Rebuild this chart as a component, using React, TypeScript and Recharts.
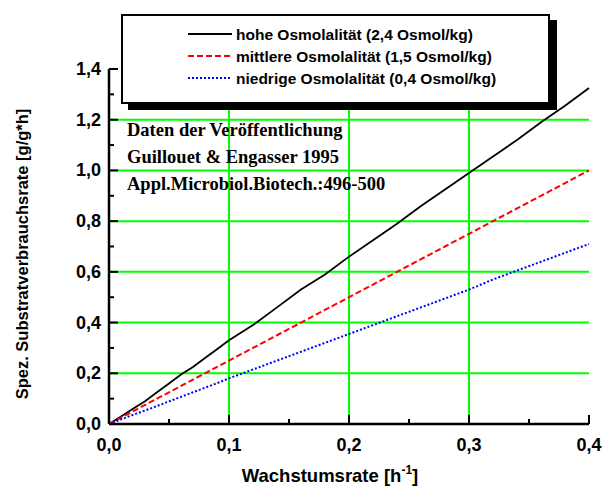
import React from 'react';
import { LineChart, Line, XAxis, YAxis, ReferenceLine, Legend } from 'recharts';

// ---- data ----
const xValues = [0, 0.01, 0.02, 0.03, 0.04, 0.05, 0.06, 0.07, 0.08, 0.09, 0.1, 0.12, 0.14, 0.16, 0.18, 0.2, 0.22, 0.24, 0.26, 0.28, 0.3, 0.32, 0.34, 0.36, 0.38, 0.4];
const hohe = [0, 0.03, 0.06, 0.09, 0.125, 0.16, 0.195, 0.225, 0.26, 0.295, 0.33, 0.39, 0.46, 0.53, 0.59, 0.66, 0.725, 0.79, 0.86, 0.925, 0.99, 1.055, 1.12, 1.19, 1.255, 1.325];
const mittlere = [0, 0.025, 0.05, 0.075, 0.1, 0.125, 0.15, 0.175, 0.2, 0.225, 0.25, 0.3, 0.35, 0.4, 0.45, 0.5, 0.55, 0.6, 0.65, 0.7, 0.75, 0.8, 0.85, 0.9, 0.95, 1.0];
const niedrige = [0, 0.018, 0.036, 0.053, 0.071, 0.089, 0.107, 0.125, 0.143, 0.161, 0.18, 0.215, 0.25, 0.285, 0.32, 0.355, 0.39, 0.425, 0.46, 0.495, 0.53, 0.57, 0.605, 0.64, 0.675, 0.71];

const xTicks = [0, 0.05, 0.1, 0.15, 0.2, 0.25, 0.3, 0.35, 0.4];
const yTicks = [0, 0.1, 0.2, 0.3, 0.4, 0.5, 0.6, 0.7, 0.8, 0.9, 1.0, 1.1, 1.2, 1.3, 1.4];
const xGrid = [0.1, 0.2, 0.3];
const yGrid = [0.2, 0.4, 0.6, 0.8, 1.0, 1.2];

const seriesNames = ['hohe Osmolalität (2,4 Osmol/kg)', 'mittlere Osmolalität (1,5 Osmol/kg)', 'niedrige Osmolalität (0,4 Osmol/kg)'];
const seriesKeys = ['hohe', 'mittlere', 'niedrige'];
const seriesColors = ['#000000', '#ff0000', '#0000ff'];
const seriesDash = ['', '6 3', '2 2'];

const annotation = ['Daten der Veröffentlichung', 'Guillouet & Engasser 1995', 'Appl.Microbiol.Biotech.:496-500'];

const data = xValues.map((x, i) => ({ x, hohe: hohe[i], mittlere: mittlere[i], niedrige: niedrige[i] }));

const fmt = (v: number) => v.toFixed(1).replace('.', ',');
const isMajorX = (v: number) => Math.round(v * 100) % 10 === 0;
const isMajorY = (v: number) => Math.round(v * 10) % 2 === 0;

const FONT = '"Liberation Sans", Arial, sans-serif';

const BottomTick = (p: any) => {
  const { x, y, payload } = p;
  const major = isMajorX(payload.value);
  return (
    <g>
      <line x1={x} x2={x} y1={y} y2={y - (major ? 9 : 5)} stroke="#000" strokeWidth={2} />
      {major && (
        <text x={x} y={y + 27} textAnchor="middle" fontFamily={FONT} fontWeight="bold" fontSize={18} fill="#000">
          {fmt(payload.value)}
        </text>
      )}
    </g>
  );
};
const TopTick = (p: any) => {
  const { x, y, payload } = p;
  const major = isMajorX(payload.value);
  return <line x1={x} x2={x} y1={y} y2={y + (major ? 9 : 5)} stroke="#000" strokeWidth={2} />;
};
const LeftTick = (p: any) => {
  const { x, y, payload } = p;
  const major = isMajorY(payload.value);
  return (
    <g>
      <line x1={x} x2={x + (major ? 9 : 5)} y1={y} y2={y} stroke="#000" strokeWidth={2} />
      {major && (
        <text x={x - 8} y={y + 6} textAnchor="end" fontFamily={FONT} fontWeight="bold" fontSize={18} fill="#000">
          {fmt(payload.value)}
        </text>
      )}
    </g>
  );
};
const RightTick = (p: any) => {
  const { x, y, payload } = p;
  const major = isMajorY(payload.value);
  return <line x1={x} x2={x - (major ? 9 : 5)} y1={y} y2={y} stroke="#000" strokeWidth={2} />;
};

const LegendBox = () => (
  <svg width={438} height={98} style={{ display: 'block' }}>
    <rect x={7} y={6} width={429} height={90} fill="#000" />
    <rect x={1} y={1} width={427} height={88} fill="#fff" stroke="#000" strokeWidth={2} />
    {seriesNames.map((n, i) => (
      <g key={n}>
        <line x1={67} x2={111} y1={20 + i * 22} y2={20 + i * 22} stroke={seriesColors[i]} strokeWidth={2} strokeDasharray={seriesDash[i] || undefined} />
        <text x={115} y={25.5 + i * 22} fontFamily={FONT} fontWeight="bold" fontSize={15.5} fill="#000">{n}</text>
      </g>
    ))}
  </svg>
);

export default function App() {
  return (
    <div style={{ position: 'absolute', left: 0, top: 0, width: 603, height: 489, background: '#fff' }}>
      <LineChart width={603} height={489} data={data} margin={{ top: 69, right: 14, bottom: 35, left: 49 }}>
        <XAxis xAxisId="b" dataKey="x" type="number" domain={[0, 0.4]} ticks={xTicks} interval={0} tickSize={0} tickMargin={0}
          tick={BottomTick} tickLine={false} axisLine={{ stroke: '#000', strokeWidth: 2.5 }} height={30} />
        <XAxis xAxisId="t" dataKey="x" type="number" orientation="top" domain={[0, 0.4]} ticks={xTicks} interval={0} tickSize={0} tickMargin={0}
          tick={TopTick} tickLine={false} axisLine={{ stroke: '#000', strokeWidth: 2.5 }} height={0} />
        <YAxis yAxisId="l" type="number" domain={[0, 1.4]} ticks={yTicks} interval={0} tickSize={0} tickMargin={0}
          tick={LeftTick} tickLine={false} axisLine={{ stroke: '#000', strokeWidth: 2.5 }} width={60} />
        <YAxis yAxisId="r" type="number" orientation="right" domain={[0, 1.4]} ticks={yTicks} interval={0} tickSize={0} tickMargin={0}
          tick={RightTick} tickLine={false} axisLine={{ stroke: '#000', strokeWidth: 2.5 }} width={0} />
        {xGrid.map((v) => (
          <ReferenceLine key={'x' + v} x={v} xAxisId="b" yAxisId="l" stroke="#00ff00" strokeWidth={2} />
        ))}
        {yGrid.map((v) => (
          <ReferenceLine key={'y' + v} y={v} xAxisId="b" yAxisId="l" stroke="#00ff00" strokeWidth={2} />
        ))}
        {seriesKeys.map((k, i) => (
          <Line key={k} xAxisId="b" yAxisId="l" dataKey={k} name={seriesNames[i]} type="linear" stroke={seriesColors[i]}
            strokeWidth={i === 0 ? 1.8 : 2} strokeDasharray={seriesDash[i] || undefined} dot={false} isAnimationActive={false} />
        ))}
        <Legend layout="horizontal" verticalAlign="middle" align="center" content={() => <LegendBox />}
          wrapperStyle={{ position: 'absolute', left: 121, top: 14, width: 438, height: 98 }} />
      </LineChart>
      <svg width={603} height={489} style={{ position: 'absolute', left: 0, top: 0, pointerEvents: 'none' }}>
        {annotation.map((t, i) => (
          <text key={t} x={127} y={136 + i * 27} fontFamily='"Liberation Serif", "Times New Roman", serif' fontWeight="bold" fontSize={18.5} fill="#000">{t}</text>
        ))}
        <text transform="translate(28,254) rotate(-90)" textAnchor="middle" fontFamily={FONT} fontWeight="bold" fontSize={16.5} fill="#000">
          Spez. Substratverbrauchsrate [g/g*h]
        </text>
        <text x={330} y={482} textAnchor="middle" fontFamily={FONT} fontWeight="bold" fontSize={18.5} fill="#000">
          Wachstumsrate [h<tspan dy={-8} fontSize={12}>-1</tspan><tspan dy={8}>]</tspan>
        </text>
      </svg>
    </div>
  );
}
